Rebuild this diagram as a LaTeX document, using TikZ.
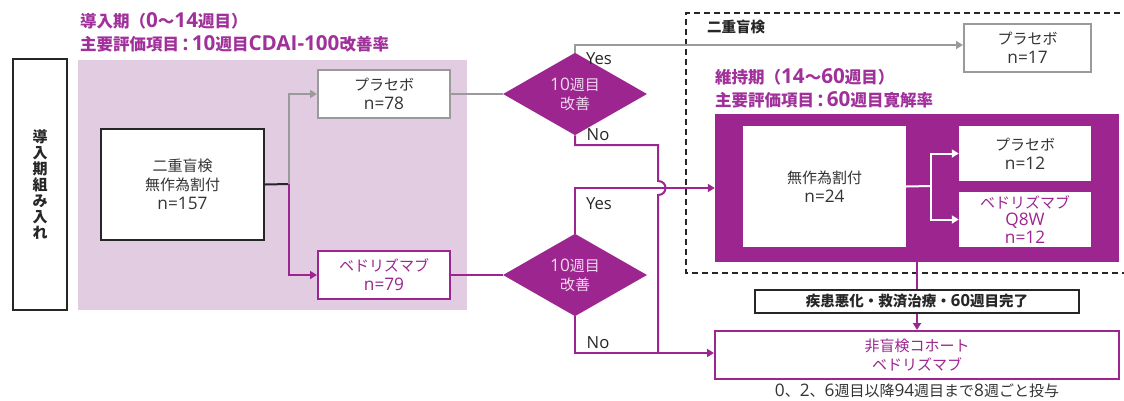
\documentclass[tikz,border=0pt]{standalone}
\usepackage{fontspec}
\setmainfont{Noto Sans CJK JP}
\newfontfamily\latf{Open Sans}[Scale=1.15]
\newfontfamily\latt{Open Sans}[Scale=1.25]
\newcommand{\LN}[1]{{\latf #1}}
\newcommand{\LT}[1]{{\latt #1}}
\usetikzlibrary{shapes.geometric,arrows.meta}
\definecolor{vp}{HTML}{9C258F}
\definecolor{vt}{HTML}{A0309A}
\definecolor{vbg}{HTML}{E2CCE2}
\definecolor{gr}{HTML}{9A9A9A}
\definecolor{tx}{HTML}{333333}
\definecolor{dtx}{HTML}{F0D8EE}
\begin{document}
\begin{tikzpicture}[x=1pt,y=-1pt,
  body/.style={font=\fontsize{15}{19}\selectfont,text=tx,align=center,inner sep=0},
  box/.style={body,draw,line width=2pt,minimum width=#1},
  dia/.style={diamond,fill=vp,minimum width=144pt,minimum height=62pt,inner sep=0,
    font=\fontsize{15}{19}\selectfont,text=dtx,align=center},
  ttl/.style={font=\bfseries\fontsize{16.5}{22}\selectfont,text=vt,anchor=west,inner sep=0},
  lab/.style={font=\latf\fontsize{14.5}{17}\selectfont,text=black!85,inner sep=0},
  tip/.style={-{Triangle[length=7pt,width=8pt]}},
  ln/.style={line width=2pt}]
\useasboundingbox (0,0) rectangle (1124,400);
% background of induction phase
\fill[vbg] (78,60) rectangle (467,310);
% dashed double-blind frame
\draw[line width=2pt,dash pattern=on 6pt off 4pt,black!85] (1130,13) -- (686,13) -- (686,273) -- (1130,273);
% titles
\node[ttl] (t1) at (80,21) {導入期（\LT{0}～\LT{14}週目）};
\node[ttl] (t2) at (80,44) {主要評価項目\LT{\,:\,10}週目\LT{CDAI-100}改善率};
\node[ttl] (t3) at (715,77) {維持期（\LT{14}～\LT{60}週目）};
\node[ttl] (t4) at (715,100) {主要評価項目\LT{\,:\,60}週目寛解率};
\node[font=\bfseries\fontsize{14.5}{16}\selectfont,text=black!85,anchor=west,inner sep=0] (db) at (707,27) {二重盲検};
% nodes
\node[draw=black!85,line width=2pt,minimum width=54pt,minimum height=251pt,inner sep=0,
  align=center,font=\bfseries\fontsize{15}{16}\selectfont,text=black!85] (enr) at (40,184.5)
  {導\\入\\期\\組\\み\\入\\れ};
\node[box=163pt,draw=black!85,fill=white,minimum height=111pt] (main) at (182.5,184.5) {二重盲検\\無作為割付\\\LN{n=157}};
\node[box=132pt,draw=gr,fill=white,minimum height=48pt] (pl1) at (384,94) {プラセボ\\\LN{n=78}};
\node[box=132pt,draw=vp,fill=white,minimum height=48pt,text=vp] (ve1) at (384,275) {ベドリズマブ\\\LN{n=79}};
\node[dia] (d1) at (575,94) {\LN{10}週目\\改善};
\node[dia] (d2) at (575,275) {\LN{10}週目\\改善};
\node[box=127pt,draw=gr,fill=white,minimum height=48pt] (pl2) at (1027.5,48) {プラセボ\\\LN{n=17}};
\node[fill=vp,minimum width=404pt,minimum height=148pt,inner sep=0] (mbox) at (917,188) {};
\node[body,fill=white,minimum width=163pt,minimum height=121pt] (rand) at (824.5,186.5) {無作為割付\\\LN{n=24}};
\node[body,fill=white,minimum width=132pt,minimum height=55pt] (pl3) at (1025,153.5) {プラセボ\\\LN{n=12}};
\node[body,fill=white,minimum width=132pt,minimum height=55pt,text=vp,font=\fontsize{15}{17.5}\selectfont] (ve3) at (1025,219.5) {ベドリズマブ\\\LN{Q8W}\\\LN{n=12}};
\node[draw=black!85,line width=2pt,minimum width=324pt,minimum height=23pt,inner sep=0,
  font=\bfseries\fontsize{14.5}{16}\selectfont,text=black!85] (cond) at (917,301.5) {疾患悪化・救済治療・\LN{60}週目完了};
\node[box=404pt,draw=vp,fill=white,minimum height=48pt,text=vp] (coh) at (917,355) {非盲検コホート\\ベドリズマブ};
\node[body,text=tx] (note) at (917,391) {\LN{0}、\LN{2}、\LN{6}週目以降\LN{94}週目まで\LN{8}週ごと投与};
% labels
\node[lab] (y1) at (599,59) {Yes};
\node[lab] (n1) at (598,135) {No};
\node[lab] (y2) at (599,204) {Yes};
\node[lab] (n2) at (598,343) {No};
% connectors
\coordinate (j) at (289,184);
\draw[ln,black!85] (main.east) -- (j);
\draw[ln,gr,tip] (j) |- (pl1.west);
\draw[ln,vp,tip] (j) |- (ve1.west);
\draw[ln,gr] (pl1.east) -- (d1.west);
\draw[ln,vp] (ve1.east) -- (d2.west);
\draw[ln,gr,tip] (d1.north) |- ([yshift=3pt]pl2.west);
\coordinate (h1) at (658,145);
\coordinate (h2) at (658,181);
\coordinate (h3) at (658,195);
\coordinate (h4) at (658,353);
\draw[ln,vp,tip] (d2.north) |- (mbox.west);
\draw[ln,vp] (d1.south) |- (h1) -- (h2) .. controls (668,181) and (668,195) .. (h3) -- (h4);
\draw[ln,vp,tip] (d2.south) |- ([yshift=2pt]coh.west);
\coordinate (w) at (931,186);
\draw[ln,white] (rand.east) -- (w);
\draw[ln,white,tip] (w) |- (pl3.west);
\draw[ln,white,tip] (w) |- (ve3.west);
\draw[ln,vp] (mbox.south) -- (cond.north);
\draw[ln,vp,tip] (cond.south) -- (coh.north);
\end{tikzpicture}
\end{document}
